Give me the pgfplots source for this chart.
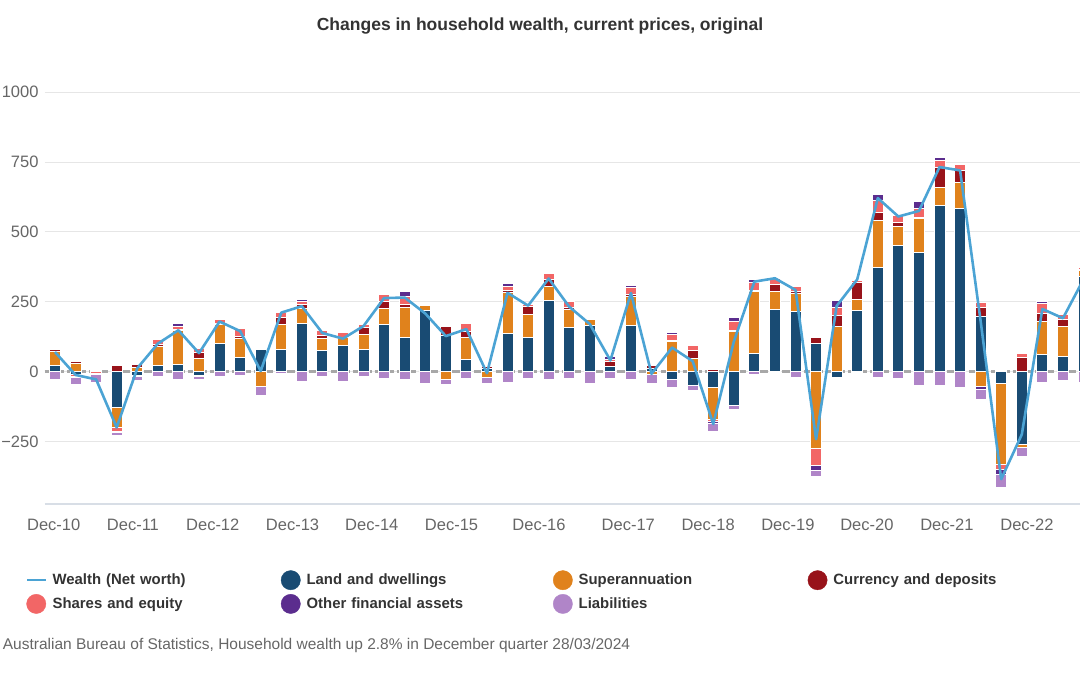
\documentclass[border=0pt]{standalone}
\usepackage{fontspec}
\setmainfont{Liberation Sans}
\usepackage{pgfplots}
\usepackage{pgfplotstable}
\pgfplotsset{compat=1.18}

\definecolor{landc}{HTML}{194B73}
\definecolor{superc}{HTML}{E0821C}
\definecolor{curc}{HTML}{98131A}
\definecolor{sharesc}{HTML}{F26666}
\definecolor{otherc}{HTML}{5B2D8E}
\definecolor{liabc}{HTML}{B085C8}
\definecolor{wealthc}{HTML}{4BA3D4}
\definecolor{gridc}{HTML}{E6E6E6}
\definecolor{zeroc}{HTML}{A8A8A8}
\definecolor{axisc}{HTML}{D8DEE6}
\definecolor{textc}{HTML}{333333}
\definecolor{tickc}{HTML}{666666}

% positive parts of each component (stacked upward from zero)
\pgfplotstableread{
k land super cur shares other
0 22 49 9 2 2
1 0 29 7 0 0
2 4 0 5 0 0
3 0 0 22 0 0
4 0 16 9 0 0
5 22 67 8 18 2
6 26 120 6 8 12
7 0 48 20 14 0
8 100 67 5 14 0
9 52 68 7 26 0
10 78 0 4 0 4
11 78 91 23 20 0
12 173 52 15 10 9
13 75 45 8 19 2
14 92 29 0 19 0
15 80 53 25 10 3
16 167 59 25 24 3
17 123 106 12 28 17
18 220 15 6 2 0
19 128 0 35 0 0
20 43 78 24 26 0
21 10 0 8 5 4
22 137 145 10 13 12
23 123 82 27 9 0
24 254 52 22 22 2
25 159 64 7 22 0
26 165 21 0 0 0
27 17 0 18 8 12
28 165 102 9 24 9
29 12 0 9 3 3
30 0 107 4 21 9
31 0 46 31 16 0
32 0 0 8 0 0
33 0 143 4 32 16
34 66 222 4 28 9
35 223 64 26 21 4
36 215 65 7 16 0
37 101 0 22 0 0
38 0 163 37 31 24
39 220 39 60 8 0
40 373 167 28 45 21
41 453 68 14 24 2
42 427 120 4 33 23
43 593 65 73 26 10
44 585 91 45 20 2
45 196 0 32 19 0
46 0 0 5 0 0
47 0 0 50 15 2
48 62 117 30 35 8
49 54 106 28 18 0
50 340 22 3 8 0
}\tpos

% negative parts of each component (stacked downward from zero)
\pgfplotstableread{
k land super cur shares other liab
0 0 0 0 0 0 -27
1 -12 0 0 -4 -4 -28
2 0 0 0 -7 -5 -27
3 -129 -70 0 -16 -4 -11
4 -15 0 0 0 -3 -13
5 0 0 0 0 0 -19
6 0 0 0 0 0 -29
7 -15 0 0 0 -4 -8
8 0 0 0 0 0 -16
9 0 0 0 0 0 -14
10 0 -54 0 0 0 -30
11 0 0 0 0 0 -8
12 0 0 0 0 0 -36
13 0 0 0 0 0 -18
14 0 0 0 0 0 -36
15 0 0 0 0 0 -18
16 0 0 0 0 0 -26
17 0 0 0 0 0 -30
18 0 0 0 0 0 -42
19 0 -27 0 0 0 -21
20 0 0 0 0 0 -26
21 0 -21 0 0 0 -23
22 0 0 0 0 0 -38
23 0 0 0 0 0 -26
24 0 0 0 0 0 -27
25 0 0 0 0 0 -26
26 0 0 0 0 0 -42
27 0 0 0 0 0 -26
28 0 0 0 0 0 -30
29 0 -11 0 0 0 -31
30 -29 0 0 0 0 -28
31 -50 0 0 0 0 -16
32 -58 -113 0 -6 -8 -30
33 -120 0 0 0 0 -17
34 0 0 0 0 0 -12
35 0 0 0 0 0 -3
36 0 0 0 0 0 -21
37 0 -274 0 -62 -17 -21
38 -21 0 0 0 0 0
39 0 0 0 0 0 -2
40 0 0 0 0 0 -20
41 0 0 0 0 0 -26
42 0 0 0 0 0 -50
43 0 0 0 0 0 -50
44 0 0 0 0 0 -56
45 0 -53 0 0 -10 -38
46 -41 -293 0 -18 -15 -48
47 -261 -12 0 0 0 -31
48 0 0 0 0 0 -39
49 0 0 0 0 0 -33
50 0 0 0 0 0 -38
}\tneg

\pgfplotstableread{
k w
0 70
1 -12
2 -28
3 -200
4 12
5 100
6 148
7 66
8 179
9 145
10 2
11 211
12 234
13 138
14 118
15 163
16 263
17 265
18 208
19 127
20 152
21 -6
22 282
23 236
24 333
25 232
26 170
27 40
28 281
29 -8
30 86
31 37
32 -188
33 107
34 322
35 334
36 292
37 -242
38 235
39 330
40 621
41 555
42 575
43 732
44 720
45 180
46 -385
47 -225
48 224
49 191
50 330
}\twealth

\pgfplotsset{
  base/.style={
    at={(44.7pt,170.7pt)}, anchor=south west,
    scale only axis, width=1090.3pt, height=412.1pt,
    xmin=-0.5, xmax=52.5, ymin=-475, ymax=1000,
  },
  seg/.style={fill=#1, draw=white, line width=1pt},
}

\begin{document}
\begin{tikzpicture}
\useasboundingbox (0pt,0pt) rectangle (1080pt,675pt);

\node[font=\fontsize{17.5}{21}\selectfont\bfseries, text=textc] at (540pt,649pt)
  {Changes in household wealth, current prices, original};

\begin{axis}[base,
  ybar stacked, bar width=11pt,
  axis x line*=bottom, axis y line*=left,
  x axis line style={draw=axisc, line width=2pt, -},
  y axis line style={draw=none},
  major tick length=0pt,
  ytick={-250,0,250,500,750,1000},
  yticklabels={−250,0,250,500,750,1000},
  xtick={-0.063,3.79,7.67,11.55,15.40,19.28,23.53,27.87,31.75,35.63,39.47,43.36,47.25},
  xticklabels={Dec-10,Dec-11,Dec-12,Dec-13,Dec-14,Dec-15,Dec-16,Dec-17,Dec-18,Dec-19,Dec-20,Dec-21,Dec-22},
  ymajorgrids, grid style={draw=gridc, line width=1pt},
  extra y ticks={0}, extra y tick labels={},
  extra y tick style={grid=major, grid style={draw=zeroc, line width=2.5pt, dash pattern=on 8pt off 3pt}},
  tick label style={font=\fontsize{16.5}{19}\selectfont, text=tickc},
  yticklabel style={anchor=east, inner sep=0pt, xshift=-6pt},
  xticklabel style={anchor=center, inner sep=0pt, yshift=-20.2pt},
  legend columns=4,
  legend cell align=left,
  legend style={at={(-0.01688,-0.16028)}, anchor=north west,
    draw=none, fill=none, inner sep=0pt, outer sep=0pt, row sep=4pt,
    font=\fontsize{14.9}{17}\selectfont\bfseries, text=textc,
    nodes={text width=200pt, inner sep=0pt, align=left, anchor=west},
    /tikz/every odd column/.append style={column sep=6pt},
    /tikz/column 2/.append style={column sep=28.3pt},
    /tikz/column 4/.append style={column sep=46.4pt},
    /tikz/column 6/.append style={column sep=29pt}},
]
\addlegendimage{legend image code/.code={\draw[wealthc, line width=2pt] (0.7pt,0pt) -- (19pt,0pt);}}
\addlegendentry{Wealth (Net worth)}
\addlegendimage{legend image code/.code={\fill[landc] (9.65pt,0pt) circle (9.65pt);}}
\addlegendentry{Land and dwellings}
\addlegendimage{legend image code/.code={\fill[superc] (9.65pt,0pt) circle (9.65pt);}}
\addlegendentry{Superannuation}
\addlegendimage{legend image code/.code={\fill[curc] (9.65pt,0pt) circle (9.65pt);}}
\addlegendentry{Currency and deposits}
\addlegendimage{legend image code/.code={\fill[sharesc] (9.65pt,0pt) circle (9.65pt);}}
\addlegendentry{Shares and equity}
\addlegendimage{legend image code/.code={\fill[otherc] (9.65pt,0pt) circle (9.65pt);}}
\addlegendentry{Other financial assets}
\addlegendimage{legend image code/.code={\fill[liabc] (9.65pt,0pt) circle (9.65pt);}}
\addlegendentry{Liabilities}

\addplot[seg=landc] table[x=k,y=land]{\tpos};
\addplot[seg=superc] table[x=k,y=super]{\tpos};
\addplot[seg=curc] table[x=k,y=cur]{\tpos};
\addplot[seg=sharesc] table[x=k,y=shares]{\tpos};
\addplot[seg=otherc] table[x=k,y=other]{\tpos};
\end{axis}

\begin{axis}[base, hide axis, ybar stacked, bar width=11pt]
\addplot[seg=landc] table[x=k,y=land]{\tneg};
\addplot[seg=superc] table[x=k,y=super]{\tneg};
\addplot[seg=curc] table[x=k,y=cur]{\tneg};
\addplot[seg=sharesc] table[x=k,y=shares]{\tneg};
\addplot[seg=otherc] table[x=k,y=other]{\tneg};
\addplot[seg=liabc] table[x=k,y=liab]{\tneg};
\end{axis}

\begin{axis}[base, hide axis]
\addplot[wealthc, line width=2.6pt, line join=round, mark=none] table[x=k,y=w]{\twealth};
\end{axis}

\node[anchor=west, inner sep=0pt, font=\fontsize{15.5}{18}\selectfont, text=tickc] at (2.7pt,29.3pt)
  {Australian Bureau of Statistics, Household wealth up 2.8\% in December quarter 28/03/2024};
\end{tikzpicture}
\end{document}
